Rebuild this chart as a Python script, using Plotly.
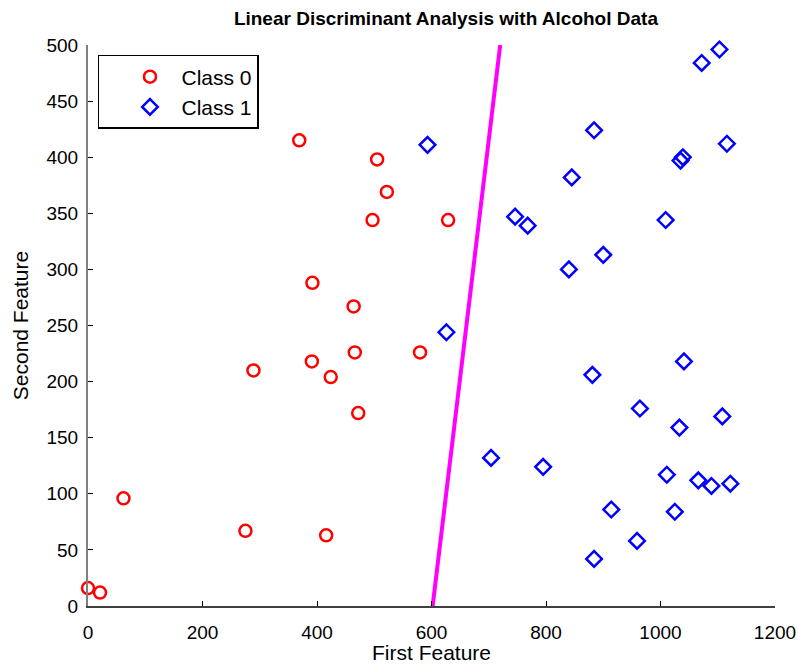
import plotly.graph_objects as go

# Class 0 (red circles)
class0_x = [369, 505, 522, 497, 629, 392, 464, 466, 580, 391, 424, 289, 472, 62, 275, 416, 0, 21]
class0_y = [415, 398, 369, 344, 344, 288, 267, 226, 226, 218, 204, 210, 172, 96, 67, 63, 16, 12]

# Class 1 (blue diamonds)
class1_x = [593, 746, 768, 1103, 1072, 884, 1116, 1039, 1035, 845, 1009, 900, 840,
            626, 704, 795, 1041, 881, 964, 1108, 1033, 1011, 1066, 1089, 1122, 914, 1025, 959, 884]
class1_y = [411, 347, 339, 496, 484, 424, 412, 400, 397, 382, 344, 313, 300,
            244, 132, 124, 218, 206, 176, 169, 159, 117, 112, 107, 109, 86, 84, 58, 42]

# Discriminant boundary
line_x = [602, 720]
line_y = [0, 500]

x_ticks = [0, 200, 400, 600, 800, 1000, 1200]
y_ticks = [0, 50, 100, 150, 200, 250, 300, 350, 400, 450, 500]

FONT = "Liberation Sans, Arial, sans-serif"

fig = go.Figure()
fig.add_trace(go.Scatter(x=line_x, y=line_y, mode="lines",
                         line=dict(color="#ff00ff", width=4),
                         showlegend=False, hoverinfo="skip"))
fig.add_trace(go.Scatter(x=class0_x, y=class0_y, mode="markers", name="Class 0",
                         marker=dict(symbol="circle-open", size=12, color="#ff0000",
                                     line=dict(width=2.5, color="#ff0000")),
                         cliponaxis=False))
fig.add_trace(go.Scatter(x=class1_x, y=class1_y, mode="markers", name="Class 1",
                         marker=dict(symbol="diamond-open", size=12, color="#0000ff",
                                     line=dict(width=2.5, color="#0000ff")),
                         cliponaxis=False))

fig.update_layout(
    width=798, height=664,
    margin=dict(l=87.5, r=22.5, t=44.5, b=58, pad=0, autoexpand=False),
    paper_bgcolor="white", plot_bgcolor="white",
    font=dict(family=FONT, size=19, color="black"),
    title=dict(text="<b>Linear Discriminant Analysis with Alcohol Data</b>",
               x=0.521, xanchor="center", xref="paper",
               y=1 - 18 / 664, yanchor="middle",
               font=dict(family=FONT, size=19, color="black")),
    legend=dict(x=(97.5 - 87.5) / 688, y=1 - (54.5 - 44.5) / 561.5,
                xanchor="left", yanchor="top",
                bgcolor="white", bordercolor="black", borderwidth=1.5,
                font=dict(family=FONT, size=21, color="black"),
                indentation=19, itemwidth=53, tracegroupgap=0),
    xaxis=dict(range=[0, 1200], tickvals=x_ticks, ticktext=[str(v) for v in x_ticks],
               showgrid=False, zeroline=False, showline=True, linecolor="#404040",
               linewidth=1.5, ticks="inside", ticklen=5, tickcolor="black",
               ticklabelstandoff=8, mirror=False, automargin=False,
               title=dict(text="First Feature", font=dict(family=FONT, size=21), standoff=8)),
    yaxis=dict(range=[0, 500], tickvals=y_ticks, ticktext=[str(v) for v in y_ticks],
               showgrid=False, zeroline=False, showline=True, linecolor="#808080",
               linewidth=2, ticks="inside", ticklen=5, tickcolor="black",
               ticklabelstandoff=4, mirror=False, automargin=False,
               title=dict(text="Second Feature", font=dict(family=FONT, size=21), standoff=12)),
)

fig.write_html("out.html")
